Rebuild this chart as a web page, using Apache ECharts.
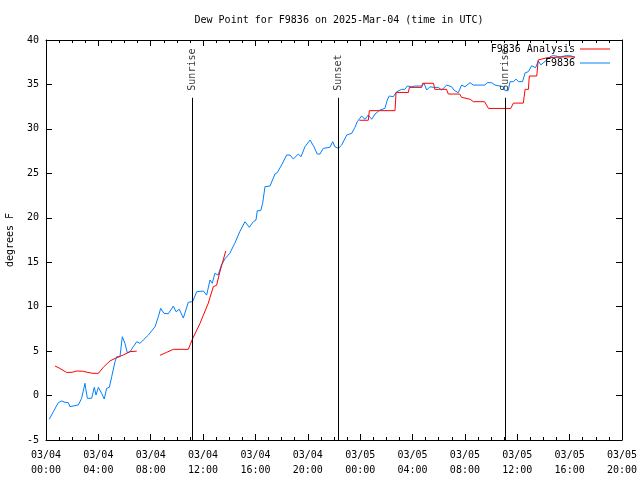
<!DOCTYPE html>
<html>
<head>
<meta charset="utf-8">
<script src="https://cdn.jsdelivr.net/npm/echarts@6/dist/echarts.min.js"></script>
<style>html,body{margin:0;padding:0;background:#fff;}#c{width:640px;height:480px;}</style>
</head>
<body>
<div id="c"></div>
<script>
// hours since 2025-03-04 00:00 UTC
const xTickLabels = ['03/04\n00:00','03/04\n04:00','03/04\n08:00','03/04\n12:00','03/04\n16:00','03/04\n20:00','03/05\n00:00','03/05\n04:00','03/05\n08:00','03/05\n12:00','03/05\n16:00','03/05\n20:00'];
const analysisData = [
[0.69,3.32],[1.0,3.1],[1.58,2.6],[2.0,2.62],[2.34,2.76],[2.8,2.74],[3.2,2.6],[3.6,2.5],[4.0,2.5],[4.38,3.18],[4.89,3.9],[5.4,4.26],[5.9,4.56],[6.42,4.94],[6.93,5.0],
[7.8,null],
[8.71,4.53],[9.2,4.85],[9.73,5.2],[10.87,5.2],[11.2,6.4],[11.76,8.1],[12.4,10.4],[12.78,12.25],[13.03,12.4],[13.28,13.9],[13.73,16.26],
[18.0,null],
[23.94,30.97],[24.62,30.97],[24.7,32.05],[26.66,32.05],[26.74,34.1],[27.68,34.1],[27.76,34.67],[28.7,34.67],[28.77,35.13],[29.6,35.13],[29.7,34.45],[30.6,34.45],[30.73,33.92],[31.6,33.92],[31.75,33.55],[32.4,33.33],[32.65,33.06],[33.5,33.06],[33.8,32.3],[35.5,32.3],[35.7,32.9],[36.46,32.9],[36.6,34.45],[36.85,34.45],[36.92,35.95],[37.49,35.95],[37.6,37.75],[38.25,38.0],[39.65,38.1],[40.4,38.1]
];
const observedData = [
[0.25,-2.67],[0.56,-1.82],[0.94,-0.8],[1.2,-0.61],[1.45,-0.76],[1.7,-0.8],[1.83,-1.25],[1.96,-1.06],[2.47,-1.06],[2.72,-0.31],[2.98,1.38],[3.03,0.81],[3.16,-0.31],[3.49,-0.31],[3.69,0.93],[3.82,0.06],[4.0,0.93],[4.25,0.25],[4.45,-0.39],[4.63,0.81],[4.84,0.93],[5.02,2.12],[5.27,3.81],[5.4,4.37],[5.52,4.56],[5.65,4.37],[5.83,6.62],[6.03,5.87],[6.21,4.82],[6.42,4.94],[6.67,5.5],[6.93,6.06],[7.18,5.87],[7.43,6.25],[7.82,6.81],[8.33,7.75],[8.58,8.87],[8.76,9.81],[9.01,9.25],[9.34,9.2],[9.73,10.07],[9.93,9.43],[10.18,9.7],[10.49,8.72],[10.87,10.5],[11.2,10.56],[11.51,11.68],[12.02,11.76],[12.27,11.3],[12.53,13.0],[12.7,12.63],[12.9,13.75],[13.15,13.56],[13.4,14.69],[13.7,15.44],[14.04,16.0],[14.42,17.13],[14.8,18.43],[15.2,19.56],[15.53,18.93],[15.84,19.56],[16.04,19.75],[16.14,20.8],[16.4,20.8],[16.55,21.63],[16.73,23.5],[17.11,23.57],[17.49,24.92],[17.66,25.07],[18.0,25.94],[18.38,27.06],[18.64,27.06],[18.89,26.61],[19.27,27.17],[19.48,26.87],[19.78,27.99],[20.17,28.75],[20.47,27.99],[20.72,27.17],[20.93,27.17],[21.18,27.81],[21.69,27.93],[21.9,28.56],[22.07,27.99],[22.33,27.81],[22.59,28.19],[22.97,29.31],[23.35,29.5],[23.6,30.18],[23.78,30.81],[24.11,31.45],[24.37,31.08],[24.62,31.56],[24.88,31.08],[25.13,31.67],[25.51,32.12],[25.89,32.31],[26.07,33.25],[26.22,33.7],[26.53,33.62],[26.79,34.18],[27.17,34.45],[27.42,34.45],[27.6,34.82],[27.94,34.74],[28.19,34.82],[28.7,34.82],[28.88,35.13],[29.08,34.37],[29.33,34.74],[29.59,34.67],[29.97,34.67],[30.22,34.37],[30.61,34.93],[30.99,34.74],[31.16,34.37],[31.49,34.07],[31.75,34.93],[32.0,34.74],[32.39,35.2],[32.64,34.93],[33.53,34.93],[33.7,35.2],[34.05,35.2],[34.3,34.93],[34.94,34.74],[35.07,34.3],[35.3,34.3],[35.45,35.31],[35.7,35.31],[35.9,35.6],[36.1,35.31],[36.4,35.31],[36.6,36.3],[36.85,36.44],[37.1,37.1],[37.4,36.88],[37.6,37.64],[37.8,37.2],[38.25,37.75],[38.5,38.13],[38.76,38.25],[39.27,38.1],[39.78,38.25],[40.16,38.2],[40.41,38.0]
];
const sunEvents = [[11.18,'Sunrise'],[22.33,'Sunset'],[35.07,'Sunrise']];
const sunLineTop = 33.5;
const sunLabelBase = 34.3;

const FONT = 'DejaVu Sans Mono';
const chart = echarts.init(document.getElementById('c'), null, {renderer:'canvas'});
const axisCommon = {
  type:'value', min:-5, max:40, interval:5,
  axisLine:{show:true, onZero:false, lineStyle:{color:'#000', width:1}},
  axisTick:{show:true, inside:true, length:6, lineStyle:{color:'#000'}},
  splitLine:{show:false}
};
chart.setOption({
  animation:false,
  backgroundColor:'#fff',
  textStyle:{fontFamily:FONT},
  title:{text:'Dew Point for F9836 on 2025-Mar-04 (time in UTC)', left:334, textAlign:'center', top:10,
    textStyle:{fontFamily:FONT, fontSize:10, fontWeight:'normal', color:'#000'}},
  legend:{data:['F9836 Analysis','F9836'], orient:'vertical', align:'right', right:25, top:38,
    icon:'rect', itemWidth:30, itemHeight:1, itemGap:2,
    textStyle:{fontFamily:FONT, fontSize:10, color:'#000', lineHeight:12}},
  grid:{left:46, right:18, top:40, bottom:40, containLabel:false, outerBoundsMode:'none'},
  xAxis:[{
    type:'value', min:0, max:44, interval:4, position:'bottom',
    axisLine:{show:true, onZero:false, lineStyle:{color:'#000'}},
    axisTick:{show:true, inside:true, length:6, lineStyle:{color:'#000'}},
    minorTick:{show:true, splitNumber:4, length:3, lineStyle:{color:'#000'}},
    splitLine:{show:false},
    axisLabel:{fontFamily:FONT, fontSize:10, color:'#000', margin:8, lineHeight:15,
      formatter:function(v){ return xTickLabels[Math.round(v/4)] || ''; }}
  },{
    type:'value', min:0, max:44, interval:4, position:'top',
    axisLine:{show:true, onZero:false, lineStyle:{color:'#000'}},
    axisTick:{show:true, inside:true, length:6, lineStyle:{color:'#000'}},
    minorTick:{show:true, splitNumber:4, length:3, lineStyle:{color:'#000'}},
    splitLine:{show:false}, axisLabel:{show:false}
  }],
  yAxis:[Object.assign({}, axisCommon, {position:'left', name:'degrees F', nameLocation:'middle', nameGap:31,
      nameTextStyle:{fontFamily:FONT, fontSize:10, color:'#000'},
      axisLabel:{fontFamily:FONT, fontSize:10, color:'#000', margin:7}}),
    Object.assign({}, axisCommon, {position:'right', axisLabel:{show:false}})],
  series:[
    {name:'F9836 Analysis', type:'line', data:analysisData, showSymbol:false, symbol:'none',
      connectNulls:false, lineStyle:{color:'#ff0000', width:1}, itemStyle:{color:'#ff0000'}, z:3,
      markLine:{silent:true, symbol:['none','none'], label:{show:false},
        lineStyle:{color:'#000', width:1, type:'solid'},
        data: sunEvents.map(function(e){ return [{coord:[e[0],-5]},{coord:[e[0],sunLineTop]}]; })}
    },
    {name:'F9836', type:'line', data:observedData, showSymbol:false, symbol:'none',
      lineStyle:{color:'#0080ff', width:1}, itemStyle:{color:'#0080ff'}, z:2},
    {name:'sun', type:'scatter', symbolSize:0, silent:true,
      data: sunEvents.map(function(e){ return [e[0], sunLabelBase, e[1]]; }),
      label:{show:true, position:'inside', rotate:90, align:'left', verticalAlign:'middle',
        fontFamily:FONT, fontSize:10, color:'#000', formatter:function(p){ return p.value[2]; }}}
  ]
});
</script>
</body>
</html>
